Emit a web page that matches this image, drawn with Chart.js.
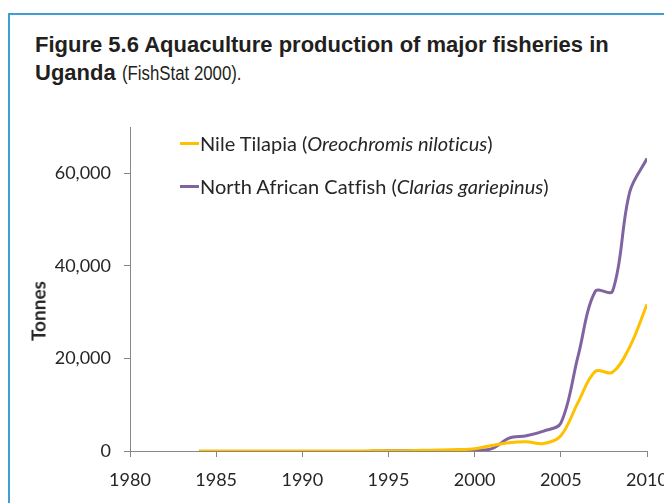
<!DOCTYPE html>
<html>
<head>
<meta charset="utf-8">
<script src="https://cdn.jsdelivr.net/npm/chart.js@4/dist/chart.umd.min.js"></script>
<style>
  html, body { margin:0; padding:0; background:#fff; width:664px; height:503px; overflow:hidden; }
  #frame { position:absolute; left:8px; top:13px; width:720px; height:600px; border-left:2px solid #3d9fd3; border-top:2px solid #3d9fd3; }
  #title { position:absolute; left:35px; top:31px; font-family:"Liberation Sans",Arial,sans-serif; color:#231f20; font-size:22px; line-height:28px; white-space:nowrap; }
  #title b { font-weight:bold; }
  #title .n { display:inline-block; font-size:20px; transform:scaleX(0.84); transform-origin:0 50%; }
  #wrap { position:absolute; left:0; top:0; width:720px; height:503px; }
  #ytitle { position:absolute; left:38px; top:311px; transform:translate(-50%,-50%) rotate(-90deg); font-family:Lato,"Open Sans",sans-serif; font-weight:bold; font-size:19px; color:#262626; white-space:nowrap; }
  .leg { position:absolute; left:180px; font-family:Lato,"Open Sans",sans-serif; font-size:20px; color:#262626; white-space:nowrap; display:flex; align-items:center; font-variant-ligatures:none; }
  .leg span.sw { display:inline-block; width:19px; height:3px; margin-right:1px; }
</style>
</head>
<body>
<div id="frame"></div>
<div id="title"><b>Figure 5.6 Aquaculture production of major fisheries in</b><br><b>Uganda</b> <span class="n">(FishStat 2000).</span></div>
<div id="wrap"><canvas id="c" width="720" height="503"></canvas></div>
<div id="ytitle">Tonnes</div>
<div class="leg" style="top:131px;"><span class="sw" style="background:#FFC000"></span>Nile Tilapia (<i>Oreochromis niloticus</i>)</div>
<div class="leg" style="top:174px;"><span class="sw" style="background:#8064A2"></span>North African Catfish (<i>Clarias gariepinus</i>)</div>
<script>
// ---- data ----
const tilapiaYears = [1984,1985,1986,1987,1988,1989,1990,1991,1992,1993,1994,1995,1996,1997,1998,1999,2000,2001,2002,2003,2004,2005,2006,2007,2008,2009,2010];
const tilapiaValues = [10,10,10,10,10,10,10,15,20,20,30,40,60,150,200,300,500,1200,1800,2000,1600,3300,10500,17200,17000,22500,31700];
const catfishYears = [1994,1995,1996,1997,1998,1999,2000,2001,2002,2003,2004,2005,2006,2007,2008,2009,2010];
const catfishValues = [20,30,40,60,80,100,200,500,2800,3300,4300,6000,20500,34500,34500,56000,63200];
const seriesNames = ['Nile Tilapia (Oreochromis niloticus)', 'North African Catfish (Clarias gariepinus)'];
const xTickValues = [1980,1985,1990,1995,2000,2005,2010];
const yTickValues = [0,20000,40000,60000];
const xMin = 1980, xMax = 2010;
const yMin = 0, yMax = 70000;

const toPts = (xs, ys) => xs.map((x, i) => ({x: x, y: ys[i]}));
const tickFont = {family: 'Lato, "Open Sans", sans-serif', size: 18};

new Chart(document.getElementById('c'), {
  type: 'line',
  data: {
    datasets: [
      {label: seriesNames[0], data: toPts(tilapiaYears, tilapiaValues), borderColor: '#FFC000', borderWidth: 3, pointRadius: 0, tension: 0.35, fill: false},
      {label: seriesNames[1], data: toPts(catfishYears, catfishValues), borderColor: '#8064A2', borderWidth: 3, pointRadius: 0, tension: 0.35, fill: false}
    ]
  },
  options: {
    responsive: false,
    animation: false,
    devicePixelRatio: 1,
    layout: {padding: {left: 20, top: 127, right: 73, bottom: 0}},
    plugins: {legend: {display: false}, tooltip: {enabled: false}},
    scales: {
      x: {
        type: 'linear', min: xMin, max: xMax,
        afterFit: s => { s.height = 52; },
        afterBuildTicks: s => { s.ticks = xTickValues.map(v => ({value: v})); },
        border: {color: '#868686', width: 1},
        grid: {drawOnChartArea: false, drawTicks: true, tickLength: 6, color: '#868686'},
        ticks: {font: tickFont, color: '#262626', padding: 12, maxRotation: 0, autoSkip: false, callback: v => String(v)}
      },
      y: {
        min: yMin, max: yMax,
        afterFit: s => { s.width = 110; },
        afterBuildTicks: s => { s.ticks = yTickValues.map(v => ({value: v})); },
        border: {color: '#868686', width: 1},
        grid: {drawOnChartArea: false, drawTicks: true, tickLength: 6, color: '#868686'},
        ticks: {font: tickFont, color: '#262626', padding: 13, autoSkip: false,
                callback: v => v.toLocaleString('en-US')}
      }
    }
  }
});
</script>
</body>
</html>
